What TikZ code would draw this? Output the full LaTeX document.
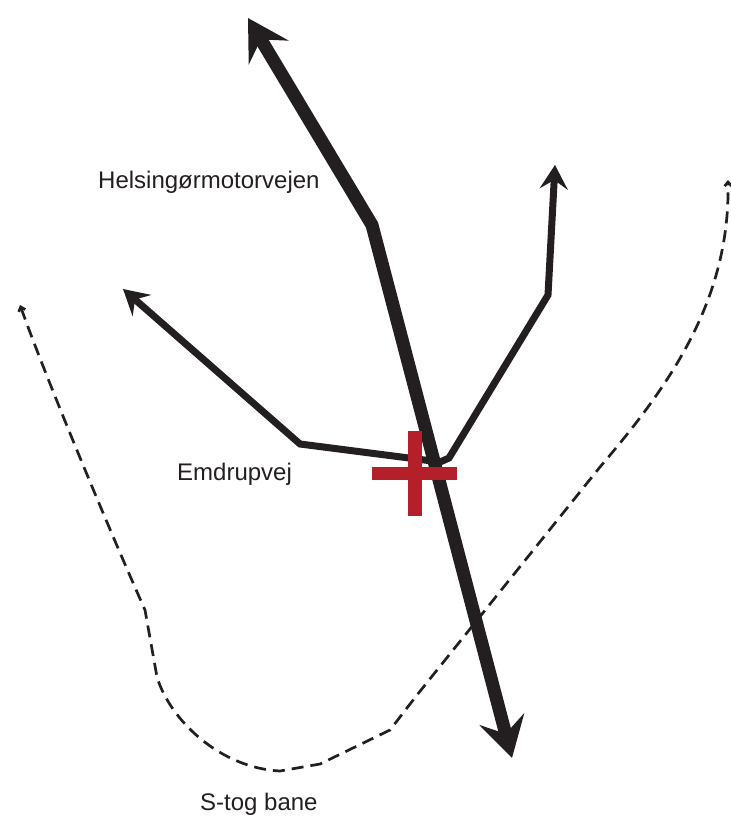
\documentclass[tikz,border=0pt]{standalone}
\usepackage{fontspec}
\setmainfont{Liberation Sans}
\usetikzlibrary{arrows.meta}
\definecolor{ink}{HTML}{231F20}
\definecolor{crossred}{HTML}{B3202A}
\tikzset{
  road/.style={draw=ink, line width=13pt, line join=miter, miter limit=10,
    {Stealth[length=40pt,width=46pt,inset=15pt]}-{Stealth[length=40pt,width=46pt,inset=15pt]}},
  street/.style={draw=ink, line width=7pt, line join=miter, miter limit=10,
    {Stealth[length=25pt,width=28pt,inset=9pt]}-{Stealth[length=24pt,width=28pt,inset=9pt]}},
  rail/.style={draw=ink, line width=2.7pt, dash pattern=on 12pt off 7pt,
    {Straight Barb[length=4pt,width=7pt]}-{Straight Barb[length=4pt,width=7pt]}},
  lbl/.style={font=\fontsize{24pt}{28pt}\selectfont, text=ink, inner sep=0pt, anchor=base west},
  crossbar/.style={fill=crossred, draw=none}
}
\begin{document}
\begin{tikzpicture}[x=1pt,y=-1pt]
\useasboundingbox (0,0) rectangle (731,817);
% named coordinates
\coordinate (mtop) at (248,18);
\coordinate (mbend) at (372,225);
\coordinate (mbot) at (512,758);
\coordinate (ltip) at (123,289);
\coordinate (lbend) at (300,444);
\coordinate (junc) at (440,462);
\coordinate (junc2) at (449,458);
\coordinate (rbend) at (548,295);
\coordinate (rtip) at (555,165);
\coordinate (stop1) at (20,305);
\coordinate (stop2) at (728,180);
% dashed S-tog line
\path[rail] (stop1) .. controls (45,375) and (105,520) .. (145,610)
  -- (157,677) .. controls (170,720) and (220,768) .. (280,771)
  -- (320,764) -- (390,730) -- (417,695) -- (600,467)
  .. controls (670,385) and (730,300) .. (stop2);
% Emdrupvej
\path[street] (ltip) -- (lbend) -- (junc) -- (junc2) -- (rbend) -- (rtip);
% motorway
\path[road] (mtop) -- (mbend) -- (mbot);
% red cross
\node[crossbar, minimum width=14pt, minimum height=85pt, inner sep=0pt] (crossv) at (415,473.5) {};
\node[crossbar, minimum width=85pt, minimum height=13pt, inner sep=0pt] (crossh) at (414.5,473.5) {};
% labels
\node[lbl] (motorvej) at (98,188) {Helsingørmotorvejen};
\node[lbl] (emdrup) at (177,480) {Emdrupvej};
\node[lbl] (stog) at (200,810) {S-tog bane};
\end{tikzpicture}
\end{document}
